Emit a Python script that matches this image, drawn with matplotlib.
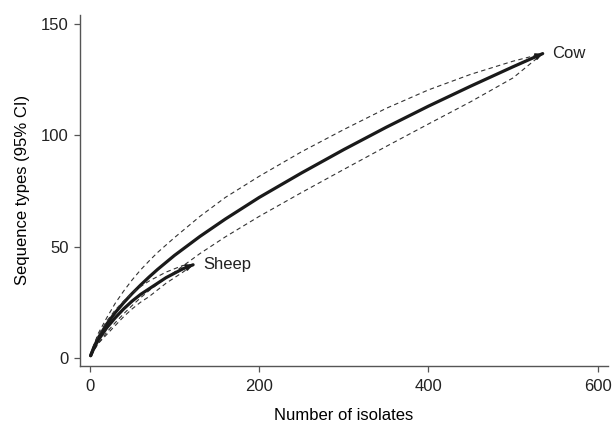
import matplotlib.pyplot as plt

plt.rcParams['font.family'] = ['Liberation Sans', 'DejaVu Sans']

# rarefaction curves
cow_n = [1, 5, 10, 20, 30, 40, 50, 60, 70, 80, 100, 130, 160, 200, 250, 300, 350, 400, 450, 500, 535]
cow_mean = [1, 5, 9, 15.2, 20.3, 24.8, 28.9, 32.7, 36.3, 39.7, 46, 54.5, 62.3, 72, 83, 93.5, 103.5, 113, 122, 130.7, 136.6]
cow_upper = [1, 6, 11, 18, 24.5, 30, 35, 39.5, 43.5, 47.3, 54, 63.5, 72, 81.5, 92.5, 102.5, 112, 120.3, 127.3, 133.2, 136.6]
cow_lower = [1, 3.5, 6.5, 11.5, 15.8, 19.8, 23.5, 27, 30.2, 33.1, 38.5, 46.8, 54.3, 63.5, 74.2, 84.6, 94.9, 105, 115, 125.7, 136.6]

sheep_n = [1, 5, 10, 20, 30, 40, 50, 60, 70, 80, 90, 100, 110, 122]
sheep_mean = [1, 4.5, 8, 13.5, 18, 22, 25.5, 28.5, 31, 33.5, 36, 38, 40, 41.8]
sheep_upper = [1, 5.5, 10, 16.5, 21.5, 25.5, 29, 32, 34.5, 36.5, 38.5, 40, 41.5, 41.8]
sheep_lower = [1, 3.5, 6.5, 10.5, 14.5, 18.5, 22, 25, 27.5, 30.5, 33.5, 36, 38.5, 41.8]

fig = plt.figure(figsize=(6.14, 4.24), dpi=100)
ax = fig.add_axes([0.130, 0.137, 0.860, 0.828])

dark = '#1a1a1a'
for n, m, up, lo, name in [(cow_n, cow_mean, cow_upper, cow_lower, 'Cow'),
                           (sheep_n, sheep_mean, sheep_upper, sheep_lower, 'Sheep')]:
    ax.plot(n, up, color='#333333', lw=0.8, dashes=(4, 3))
    ax.plot(n, lo, color='#333333', lw=0.8, dashes=(4, 3))
    ax.plot(n, m, color=dark, lw=2.3, solid_capstyle='round', solid_joinstyle='round')
    ax.annotate('', xy=(n[-1], m[-1]), xytext=(n[-2], m[-2]),
                arrowprops=dict(arrowstyle='-|>', color=dark, lw=1.2,
                                mutation_scale=10, shrinkA=0, shrinkB=0))
    ax.annotate(name, xy=(n[-1], m[-1]), xytext=(7, 0), textcoords='offset points',
                ha='left', va='center', fontsize=12, color='#222222')

ax.set_xlim(-11.8, 612)
ax.set_ylim(-3.6, 154)
ax.set_xticks([0, 200, 400, 600])
ax.set_yticks([0, 50, 100, 150])
ax.set_xlabel('Number of isolates', fontsize=12, labelpad=10)
ax.set_ylabel('Sequence types (95% CI)', fontsize=12, labelpad=8)

for s in ['top', 'right']:
    ax.spines[s].set_visible(False)
for s in ['left', 'bottom']:
    ax.spines[s].set_color('#555555')
    ax.spines[s].set_linewidth(1.0)
ax.tick_params(colors='#555555', labelcolor='#222222', labelsize=12, length=4.5, width=0.9)
ax.tick_params(axis='x', pad=5)

plt.savefig('out.png', dpi=100)
